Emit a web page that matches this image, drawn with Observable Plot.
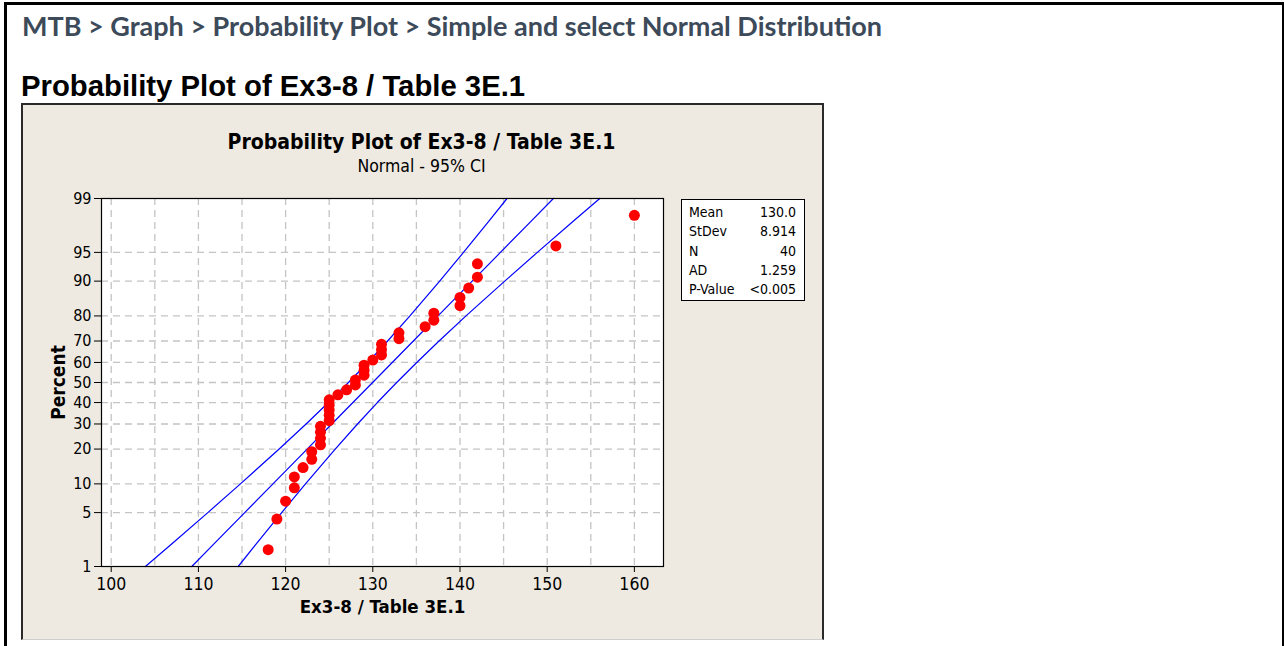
<!DOCTYPE html>
<html>
<head>
<meta charset="utf-8">
<script src="https://cdn.jsdelivr.net/npm/d3@7"></script>
<script src="https://cdn.jsdelivr.net/npm/@observablehq/plot@0.6"></script>
<style>
  html, body { margin: 0; padding: 0; background: #fff; }
  body { width: 1284px; height: 646px; overflow: hidden; position: relative; }
  #outer { position: absolute; left: 4px; top: 2px; width: 1275px; height: 700px;
           border-top: 3px solid #000; border-left: 3px solid #000; border-right: 2px solid #000; }
  #hdr { position: absolute; left: 22px; top: 9px; font: 700 27px Lato, sans-serif; color: #3c4a59; white-space: nowrap; }
  #ttl { position: absolute; left: 21px; top: 69px; font: 700 29.3px "Liberation Sans", Arial, sans-serif; color: #000; white-space: nowrap; }
  #panel { position: absolute; left: 21px; top: 103px; width: 803px; height: 537px; background: #EEEAE1; }
  #panelBorder { position: absolute; left: 21px; top: 103px;
                 border-left: 2px solid #2a2a2a; border-top: 2px solid #2a2a2a; border-right: 2px solid #2a2a2a; border-bottom: 1px solid #cfcfcf;
                 box-sizing: border-box; width: 803px; height: 537px; pointer-events: none; }
  #panel svg { position: absolute; left: 0; top: 0; }
  #stats { position: absolute; left: 660px; top: 96px; width: 124px; height: 102px; box-sizing: border-box;
           background: #fff; border: 1px solid #000; font: 14px "DejaVu Sans Condensed", "DejaVu Sans", sans-serif; font-stretch: condensed;
           padding: 3px 8px 0 7px; }
  #stats .row { display: flex; justify-content: space-between; height: 19.3px; line-height: 19.3px; }
</style>
</head>
<body>
<div id="outer"></div>
<div id="hdr">MTB &gt; Graph &gt; Probability Plot &gt; Simple and select Normal Distribution</div>
<div id="ttl">Probability Plot of Ex3-8 / Table 3E.1</div>
<div id="panel"><div id="stats"></div></div>
<div id="panelBorder"></div>
<script>
// ---- data ----
const values = [118, 119, 120, 121, 121, 122, 123, 123, 124, 124, 124, 124, 125, 125, 125, 125, 125,
                126, 127, 128, 128, 129, 129, 129, 130, 131, 131, 131, 133, 133, 136, 137, 137,
                140, 140, 141, 142, 142, 151, 160];
const percents = [1.73, 4.21, 6.68, 9.16, 11.63, 14.11, 16.58, 19.06, 21.53, 24.01, 26.49, 28.96, 31.44,
                  33.91, 36.39, 38.86, 41.34, 43.81, 46.29, 48.76, 51.24, 53.71, 56.19, 58.66, 61.14,
                  63.61, 66.09, 68.56, 71.04, 73.51, 75.99, 78.47, 80.94, 83.42, 85.89, 88.37, 90.84,
                  93.32, 95.79, 98.27];
const ciPercents = [1, 2, 5, 10, 20, 30, 40, 50, 60, 70, 80, 90, 95, 98, 99];
const ciLower = [103.92, 106.80, 111.08, 114.82, 119.26, 122.35, 124.91, 127.21, 129.43, 131.70, 134.26, 137.67, 140.40, 143.41, 145.39];
const ciFit   = [109.24, 111.67, 115.31, 118.55, 122.47, 125.30, 127.72, 129.98, 132.23, 134.65, 137.48, 141.40, 144.64, 148.28, 150.71];
const ciUpper = [114.56, 116.54, 119.55, 122.28, 125.69, 128.25, 130.52, 132.74, 135.04, 137.60, 140.69, 145.13, 148.87, 153.15, 156.03];
const yTicks = [1, 5, 10, 20, 30, 40, 50, 60, 70, 80, 90, 95, 99];
const xTicks = [100, 110, 120, 130, 140, 150, 160];
const xGrid = [100, 105, 110, 115, 120, 125, 130, 135, 140, 145, 150, 155, 160];
const statLabels = ["Mean", "StDev", "N", "AD", "P-Value"];
const statValues = ["130.0", "8.914", "40", "1.259", "<0.005"];
const plotTitle = "Probability Plot of Ex3-8 / Table 3E.1";
const plotSubtitle = "Normal - 95% CI";
const xLabel = "Ex3-8 / Table 3E.1";
const yLabel = "Percent";

// inverse standard normal CDF (probability-scale transform)
function probit(p) {
  const a = [-3.969683028665376e+01, 2.209460984245205e+02, -2.759285104469687e+02, 1.383577518672690e+02, -3.066479806614716e+01, 2.506628277459239e+00];
  const b = [-5.447609879822406e+01, 1.615858368580409e+02, -1.556989798598866e+02, 6.680131188771972e+01, -1.328068155288572e+01];
  const c = [-7.784894002430293e-03, -3.223964580411365e-01, -2.400758277161838e+00, -2.549732539343734e+00, 4.374664141464968e+00, 2.938163982698783e+00];
  const d = [7.784695709041462e-03, 3.224671290700398e-01, 2.445134137142996e+00, 3.754408661907416e+00];
  const pl = 0.02425, ph = 1 - pl;
  let q, r;
  if (p < pl) { q = Math.sqrt(-2 * Math.log(p)); return (((((c[0]*q+c[1])*q+c[2])*q+c[3])*q+c[4])*q+c[5]) / ((((d[0]*q+d[1])*q+d[2])*q+d[3])*q+1); }
  if (p <= ph) { q = p - 0.5; r = q*q; return (((((a[0]*r+a[1])*r+a[2])*r+a[3])*r+a[4])*r+a[5])*q / (((((b[0]*r+b[1])*r+b[2])*r+b[3])*r+b[4])*r+1); }
  q = Math.sqrt(-2 * Math.log(1 - p)); return -(((((c[0]*q+c[1])*q+c[2])*q+c[3])*q+c[4])*q+c[5]) / ((((d[0]*q+d[1])*q+d[2])*q+d[3])*q+1);
}
const Z = pct => probit(pct / 100);

const points = values.map((v, i) => ({x: v, p: percents[i]}));
const ci = ciPercents.map((p, i) => ({p, lo: ciLower[i], fit: ciFit[i], hi: ciUpper[i]}));
const gridY = yTicks.slice(1, -1);

const font = "'DejaVu Sans Condensed', 'DejaVu Sans', sans-serif";
const chart = Plot.plot({
  width: 803, height: 537,
  marginLeft: 80, marginRight: 161, marginTop: 95, marginBottom: 74,
  style: {background: "transparent", fontFamily: font, fontSize: "16px", color: "#000", overflow: "visible", fontStretch: "condensed"},
  x: {domain: [98.886, 163.34]},
  y: {domain: [Z(1), Z(99)]},
  marks: [
    Plot.frame({fill: "#fff"}),
    Plot.ruleX(xGrid, {x: d => d, stroke: "#c4c4c4", strokeWidth: 1.3, strokeDasharray: "7,5"}),
    Plot.ruleY(gridY, {y: d => Z(d), stroke: "#c4c4c4", strokeWidth: 1.3, strokeDasharray: "7,5"}),
    Plot.line(ci, {x: "lo", y: d => Z(d.p), stroke: "#0000ff", strokeWidth: 1.2}),
    Plot.line(ci, {x: "fit", y: d => Z(d.p), stroke: "#0000ff", strokeWidth: 1.2}),
    Plot.line(ci, {x: "hi", y: d => Z(d.p), stroke: "#0000ff", strokeWidth: 1.2}),
    Plot.dot(points, {x: "x", y: d => Z(d.p), r: 5.5, fill: "#ff0000", stroke: "none"}),
    Plot.frame({stroke: "#000", strokeWidth: 1.2}),
    Plot.axisX(xTicks, {ticks: xTicks, tickSize: 6, tickPadding: 5, label: null, fontSize: 17.5, stroke: "#000"}),
    Plot.axisY(yTicks.map(Z), {ticks: yTicks.map(Z), tickFormat: (d, i) => String(yTicks[i]), tickSize: 7, tickPadding: 3, label: null, fontSize: 16, stroke: "#000"}),
    Plot.text([plotTitle], {frameAnchor: "top", lineAnchor: "middle", dx: 39, dy: -56, fontWeight: "bold", fontSize: 21}),
    Plot.text([plotSubtitle], {frameAnchor: "top", lineAnchor: "middle", dx: 39, dy: -32, fontSize: 17.5}),
    Plot.text([xLabel], {frameAnchor: "bottom", lineAnchor: "middle", dy: 41, fontWeight: "bold", fontSize: 18.5}),
    Plot.text([yLabel], {frameAnchor: "left", lineAnchor: "middle", textAnchor: "middle", dx: -43, rotate: -90, fontWeight: "bold", fontSize: 19})
  ]
});
document.getElementById("panel").insertBefore(chart, document.getElementById("stats"));

const stats = document.getElementById("stats");
statLabels.forEach((l, i) => {
  const row = document.createElement("div");
  row.className = "row";
  const a = document.createElement("span"); a.textContent = l;
  const b = document.createElement("span"); b.textContent = statValues[i];
  row.appendChild(a); row.appendChild(b);
  stats.appendChild(row);
});
</script>
</body>
</html>
